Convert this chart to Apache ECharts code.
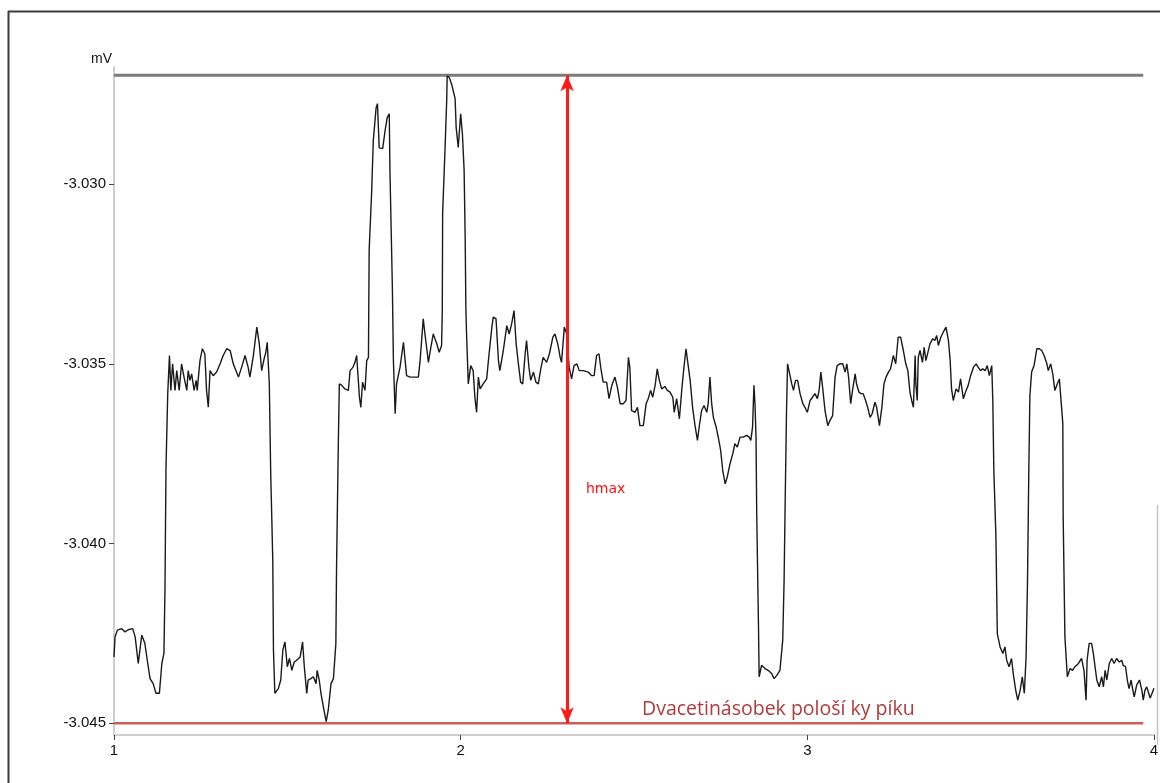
<!DOCTYPE html>
<html>
<head>
<meta charset="utf-8">
<title>hmax</title>
<script src="https://cdn.jsdelivr.net/npm/echarts@6/dist/echarts.min.js"></script>
<style>
  html, body { margin: 0; padding: 0; background: #fff; }
  #chart { width: 1160px; height: 783px; }
</style>
</head>
<body>
<div id="chart"></div>
<script>
// Detector trace: [time, signal in mV]
const signal = [
  [1.000,-3.04316],[1.003,-3.04260],[1.010,-3.04241],[1.022,-3.04237],[1.032,-3.04246],[1.041,-3.04240],[1.054,-3.04237],[1.061,-3.04260],[1.070,-3.04334],[1.080,-3.04255],
  [1.089,-3.04278],[1.096,-3.04325],[1.104,-3.04376],[1.113,-3.04390],[1.121,-3.04417],[1.131,-3.04417],[1.138,-3.04334],[1.144,-3.04306],[1.147,-3.04130],[1.150,-3.03788],
  [1.155,-3.03583],[1.160,-3.03477],[1.164,-3.03574],[1.169,-3.03500],[1.176,-3.03574],[1.181,-3.03519],[1.188,-3.03574],[1.195,-3.03500],[1.202,-3.03537],[1.210,-3.03574],
  [1.214,-3.03519],[1.219,-3.03546],[1.224,-3.03528],[1.231,-3.03574],[1.237,-3.03546],[1.240,-3.03574],[1.248,-3.03491],[1.255,-3.03458],[1.262,-3.03472],[1.267,-3.03574],
  [1.272,-3.03621],[1.277,-3.03519],[1.286,-3.03533],[1.296,-3.03523],[1.306,-3.03500],[1.315,-3.03477],[1.325,-3.03458],[1.335,-3.03463],[1.344,-3.03500],[1.359,-3.03537],
  [1.368,-3.03510],[1.378,-3.03477],[1.387,-3.03510],[1.392,-3.03537],[1.402,-3.03477],[1.412,-3.03398],[1.419,-3.03444],[1.426,-3.03519],[1.433,-3.03486],[1.438,-3.03468],
  [1.442,-3.03440],[1.448,-3.03556],[1.452,-3.03801],[1.458,-3.04047],[1.460,-3.04297],[1.464,-3.04417],[1.474,-3.04404],[1.481,-3.04380],[1.487,-3.04297],[1.493,-3.04274],
  [1.500,-3.04343],[1.506,-3.04320],[1.513,-3.04353],[1.520,-3.04330],[1.527,-3.04325],[1.537,-3.04316],[1.544,-3.04274],[1.549,-3.04343],[1.556,-3.04417],[1.560,-3.04380],
  [1.568,-3.04376],[1.575,-3.04371],[1.583,-3.04390],[1.586,-3.04353],[1.592,-3.04380],[1.597,-3.04417],[1.604,-3.04455],[1.612,-3.04496],[1.618,-3.04464],[1.626,-3.04390],
  [1.633,-3.04376],[1.640,-3.04278],[1.642,-3.04065],[1.647,-3.03727],[1.650,-3.03556],[1.657,-3.03560],[1.666,-3.03570],[1.676,-3.03574],[1.681,-3.03519],[1.689,-3.03510],
  [1.695,-3.03496],[1.700,-3.03477],[1.708,-3.03593],[1.712,-3.03621],[1.717,-3.03551],[1.724,-3.03574],[1.729,-3.03491],[1.734,-3.03482],[1.736,-3.03185],[1.743,-3.03027],
  [1.748,-3.02879],[1.756,-3.02788],[1.760,-3.02776],[1.765,-3.02899],[1.775,-3.02901],[1.782,-3.02851],[1.788,-3.02815],[1.794,-3.02804],[1.796,-3.02963],[1.803,-3.03288],
  [1.806,-3.03491],[1.811,-3.03639],[1.815,-3.03556],[1.825,-3.03510],[1.835,-3.03440],[1.839,-3.03482],[1.844,-3.03533],[1.854,-3.03537],[1.878,-3.03537],[1.883,-3.03491],
  [1.892,-3.03375],[1.897,-3.03417],[1.907,-3.03496],[1.914,-3.03454],[1.921,-3.03417],[1.931,-3.03444],[1.938,-3.03468],[1.945,-3.03449],[1.947,-3.03352],[1.948,-3.03082],
  [1.955,-3.02899],[1.960,-3.02759],[1.961,-3.02699],[1.967,-3.02703],[1.974,-3.02722],[1.984,-3.02762],[1.987,-3.02842],[1.993,-3.02898],[2.000,-3.02804],[2.005,-3.02860],
  [2.010,-3.02963],[2.013,-3.03149],[2.015,-3.03344],[2.017,-3.03417],[2.022,-3.03556],[2.029,-3.03505],[2.036,-3.03519],[2.041,-3.03593],[2.046,-3.03635],[2.051,-3.03537],
  [2.056,-3.03570],[2.061,-3.03574],[2.065,-3.03556],[2.075,-3.03542],[2.082,-3.03472],[2.090,-3.03398],[2.094,-3.03370],[2.102,-3.03375],[2.109,-3.03491],[2.113,-3.03519],
  [2.123,-3.03463],[2.133,-3.03394],[2.140,-3.03417],[2.147,-3.03389],[2.154,-3.03352],[2.160,-3.03444],[2.166,-3.03496],[2.173,-3.03551],[2.179,-3.03556],[2.186,-3.03472],
  [2.190,-3.03435],[2.197,-3.03510],[2.202,-3.03546],[2.210,-3.03523],[2.217,-3.03551],[2.224,-3.03556],[2.231,-3.03514],[2.238,-3.03482],[2.248,-3.03496],[2.256,-3.03472],
  [2.266,-3.03426],[2.272,-3.03417],[2.280,-3.03444],[2.287,-3.03482],[2.291,-3.03496],[2.299,-3.03398],[2.306,-3.03417],[2.313,-3.03510],[2.320,-3.03542],[2.327,-3.03505],
  [2.335,-3.03500],[2.342,-3.03519],[2.354,-3.03519],[2.368,-3.03523],[2.378,-3.03533],[2.385,-3.03533],[2.392,-3.03477],[2.399,-3.03472],[2.404,-3.03510],[2.411,-3.03551],
  [2.421,-3.03551],[2.428,-3.03597],[2.436,-3.03560],[2.445,-3.03537],[2.452,-3.03565],[2.460,-3.03611],[2.469,-3.03611],[2.477,-3.03602],[2.484,-3.03482],[2.488,-3.03510],
  [2.493,-3.03630],[2.503,-3.03635],[2.510,-3.03621],[2.517,-3.03672],[2.527,-3.03672],[2.535,-3.03611],[2.541,-3.03597],[2.548,-3.03574],[2.554,-3.03593],[2.561,-3.03560],
  [2.567,-3.03514],[2.573,-3.03546],[2.580,-3.03570],[2.589,-3.03563],[2.596,-3.03574],[2.604,-3.03579],[2.612,-3.03593],[2.616,-3.03635],[2.623,-3.03597],[2.631,-3.03653],
  [2.638,-3.03570],[2.644,-3.03510],[2.650,-3.03458],[2.657,-3.03510],[2.662,-3.03546],[2.669,-3.03621],[2.676,-3.03672],[2.683,-3.03713],[2.690,-3.03662],[2.695,-3.03630],
  [2.702,-3.03616],[2.710,-3.03635],[2.714,-3.03611],[2.719,-3.03537],[2.724,-3.03611],[2.729,-3.03649],[2.737,-3.03676],[2.743,-3.03704],[2.750,-3.03741],[2.756,-3.03797],
  [2.763,-3.03834],[2.769,-3.03815],[2.777,-3.03778],[2.785,-3.03750],[2.791,-3.03722],[2.798,-3.03732],[2.806,-3.03704],[2.815,-3.03704],[2.825,-3.03699],[2.832,-3.03704],
  [2.837,-3.03713],[2.842,-3.03676],[2.846,-3.03560],[2.849,-3.03611],[2.852,-3.03704],[2.854,-3.03917],[2.859,-3.04223],[2.861,-3.04371],[2.868,-3.04339],[2.878,-3.04348],
  [2.887,-3.04353],[2.897,-3.04362],[2.904,-3.04376],[2.912,-3.04367],[2.921,-3.04353],[2.929,-3.04269],[2.933,-3.04102],[2.936,-3.03889],[2.940,-3.03630],[2.943,-3.03500],
  [2.948,-3.03505],[2.955,-3.03556],[2.960,-3.03574],[2.966,-3.03546],[2.972,-3.03546],[2.979,-3.03583],[2.987,-3.03611],[2.993,-3.03621],[3.000,-3.03635],[3.008,-3.03602],
  [3.015,-3.03593],[3.022,-3.03583],[3.029,-3.03597],[3.034,-3.03574],[3.039,-3.03523],[3.044,-3.03565],[3.051,-3.03630],[3.059,-3.03672],[3.065,-3.03658],[3.073,-3.03644],
  [3.080,-3.03537],[3.086,-3.03505],[3.094,-3.03500],[3.102,-3.03500],[3.109,-3.03523],[3.114,-3.03500],[3.119,-3.03537],[3.125,-3.03611],[3.131,-3.03570],[3.138,-3.03528],
  [3.142,-3.03556],[3.149,-3.03579],[3.155,-3.03583],[3.161,-3.03583],[3.168,-3.03602],[3.174,-3.03621],[3.181,-3.03649],[3.187,-3.03639],[3.195,-3.03607],[3.200,-3.03621],
  [3.208,-3.03672],[3.215,-3.03621],[3.221,-3.03556],[3.227,-3.03537],[3.234,-3.03523],[3.240,-3.03514],[3.248,-3.03477],[3.255,-3.03500],[3.262,-3.03426],[3.269,-3.03426],
  [3.277,-3.03463],[3.284,-3.03500],[3.290,-3.03519],[3.296,-3.03579],[3.301,-3.03602],[3.306,-3.03621],[3.311,-3.03477],[3.313,-3.03556],[3.317,-3.03602],[3.320,-3.03482],
  [3.325,-3.03463],[3.332,-3.03496],[3.337,-3.03454],[3.342,-3.03491],[3.346,-3.03486],[3.354,-3.03444],[3.362,-3.03430],[3.368,-3.03435],[3.373,-3.03421],[3.378,-3.03449],
  [3.385,-3.03426],[3.392,-3.03412],[3.400,-3.03398],[3.407,-3.03435],[3.412,-3.03491],[3.416,-3.03570],[3.421,-3.03602],[3.429,-3.03570],[3.436,-3.03579],[3.442,-3.03542],
  [3.450,-3.03597],[3.458,-3.03574],[3.464,-3.03560],[3.471,-3.03533],[3.479,-3.03510],[3.487,-3.03500],[3.493,-3.03510],[3.500,-3.03519],[3.506,-3.03514],[3.513,-3.03519],
  [3.519,-3.03505],[3.525,-3.03533],[3.532,-3.03505],[3.535,-3.03602],[3.538,-3.03797],[3.544,-3.03982],[3.548,-3.04251],[3.556,-3.04288],[3.564,-3.04306],[3.570,-3.04288],
  [3.575,-3.04325],[3.582,-3.04343],[3.589,-3.04320],[3.594,-3.04362],[3.601,-3.04408],[3.607,-3.04436],[3.614,-3.04408],[3.620,-3.04371],[3.626,-3.04417],[3.631,-3.04316],
  [3.635,-3.04112],[3.639,-3.03788],[3.642,-3.03588],[3.647,-3.03523],[3.654,-3.03505],[3.662,-3.03458],[3.669,-3.03458],[3.676,-3.03463],[3.683,-3.03477],[3.691,-3.03500],
  [3.695,-3.03519],[3.702,-3.03500],[3.708,-3.03528],[3.714,-3.03574],[3.721,-3.03556],[3.727,-3.03542],[3.731,-3.03537],[3.737,-3.03667],[3.738,-3.03926],[3.743,-3.04260],
  [3.750,-3.04371],[3.758,-3.04348],[3.765,-3.04353],[3.772,-3.04343],[3.782,-3.04334],[3.791,-3.04320],[3.798,-3.04353],[3.804,-3.04436],[3.807,-3.04325],[3.813,-3.04278],
  [3.820,-3.04278],[3.825,-3.04306],[3.830,-3.04343],[3.835,-3.04380],[3.842,-3.04399],[3.849,-3.04371],[3.854,-3.04399],[3.859,-3.04353],[3.864,-3.04380],[3.871,-3.04334],
  [3.878,-3.04320],[3.885,-3.04334],[3.892,-3.04320],[3.900,-3.04330],[3.907,-3.04325],[3.911,-3.04339],[3.918,-3.04343],[3.923,-3.04380],[3.928,-3.04404],[3.934,-3.04380],
  [3.939,-3.04408],[3.943,-3.04427],[3.950,-3.04394],[3.958,-3.04380],[3.965,-3.04408],[3.969,-3.04436],[3.974,-3.04408],[3.979,-3.04399],[3.989,-3.04430],[4.000,-3.04403]
];

// Axis ranges and tick values
const timeRange = [1, 4];
const timeTicks = [1, 2, 3, 4];
const mvRange = [-3.04533, -3.02674];
const mvTicks = [-3.045, -3.040, -3.035, -3.030];

// Reference levels: peak maximum and the baseline (20x peak half-width level)
const peakLevel = -3.02697;
const baseLevel = -3.045;
const levelLineEnd = 3.969;
const hmaxAt = 2.307;

// Annotation anchors [time, mV]
const hmaxLabelAt = [2.3615, -3.03849];
const baseLabelAt = [2.5231, -3.04462];

const axisFont = '"Liberation Sans", Arial, sans-serif';

const chart = echarts.init(document.getElementById('chart'), null, { renderer: 'canvas' });

chart.setOption({
  animation: false,
  backgroundColor: '#ffffff',
  grid: { left: 114, right: 6, top: 67, bottom: 48, containLabel: false, outerBoundsMode: 'none' },
  xAxis: {
    type: 'value',
    min: timeRange[0],
    max: timeRange[1],
    interval: 1,
    axisLine: { show: true, lineStyle: { color: '#cfcfcf', width: 2 } },
    axisTick: { show: true, length: 5, customValues: timeTicks, lineStyle: { color: '#444', width: 1 } },
    axisLabel: {
      customValues: timeTicks,
      margin: 8,
      color: '#111',
      fontFamily: axisFont,
      fontSize: 15,
      formatter: v => String(v)
    },
    splitLine: { show: false }
  },
  yAxis: {
    type: 'value',
    min: mvRange[0],
    max: mvRange[1],
    name: 'mV',
    nameLocation: 'end',
    nameGap: 1,
    nameTextStyle: { align: 'right', verticalAlign: 'bottom', color: '#111', fontFamily: axisFont, fontSize: 14, padding: [0, 2, 0, 0] },
    axisLine: { show: true, lineStyle: { color: '#cfcfcf', width: 2 } },
    axisTick: { show: true, length: 5, customValues: mvTicks, lineStyle: { color: '#444', width: 1 } },
    axisLabel: {
      customValues: mvTicks,
      margin: 8,
      color: '#111',
      fontFamily: axisFont,
      fontSize: 15,
      formatter: v => v.toFixed(3)
    },
    splitLine: { show: false }
  },
  series: [
    {
      name: 'peak level',
      type: 'line',
      data: [[timeRange[0], peakLevel], [levelLineEnd, peakLevel]],
      showSymbol: false,
      silent: true,
      z: 2,
      lineStyle: { color: '#7b7b7b', width: 3 }
    },
    {
      name: 'base level',
      type: 'line',
      data: [[timeRange[0], baseLevel], [levelLineEnd, baseLevel]],
      showSymbol: false,
      silent: true,
      z: 2,
      lineStyle: { color: '#d25a5a', width: 2.5 },
      markPoint: {
        silent: true,
        symbol: 'circle',
        symbolSize: 0,
        data: [
          {
            coord: hmaxLabelAt,
            label: {
              show: true, position: 'right', distance: 0,
              formatter: 'hmax', color: '#ff1010',
              fontFamily: '"DejaVu Sans", sans-serif', fontSize: 14
            }
          },
          {
            coord: baseLabelAt,
            label: {
              show: true, position: 'right', distance: 0,
              formatter: 'Dvacetinásobek pološí ky píku', color: '#b03a3c',
              fontFamily: '"Open Sans", sans-serif', fontSize: 19.5
            }
          }
        ]
      }
    },
    {
      name: 'signal',
      type: 'line',
      data: signal,
      showSymbol: false,
      silent: true,
      z: 3,
      lineStyle: { color: '#1a1a1a', width: 1.4 }
    },
    {
      name: 'hmax',
      type: 'line',
      data: [],
      silent: true,
      z: 4,
      markLine: {
        silent: true,
        symbol: ['arrow', 'arrow'],
        symbolSize: [10, 16],
        label: { show: false },
        lineStyle: { color: '#ff1a1a', width: 3, type: 'solid' },
        data: [[{ coord: [hmaxAt, baseLevel] }, { coord: [hmaxAt, peakLevel] }]]
      }
    }
  ],
  graphic: [
    { type: 'line', silent: true, shape: { x1: 8, y1: 11.5, x2: 1160, y2: 11.5 }, style: { stroke: '#3a3a3a', lineWidth: 2 } },
    { type: 'line', silent: true, shape: { x1: 8.5, y1: 11, x2: 8.5, y2: 783 }, style: { stroke: '#3a3a3a', lineWidth: 2 } },
    { type: 'line', silent: true, shape: { x1: 1157.5, y1: 505, x2: 1157.5, y2: 745 }, style: { stroke: '#c4c4c4', lineWidth: 1.5 } }
  ]
});
</script>
</body>
</html>
